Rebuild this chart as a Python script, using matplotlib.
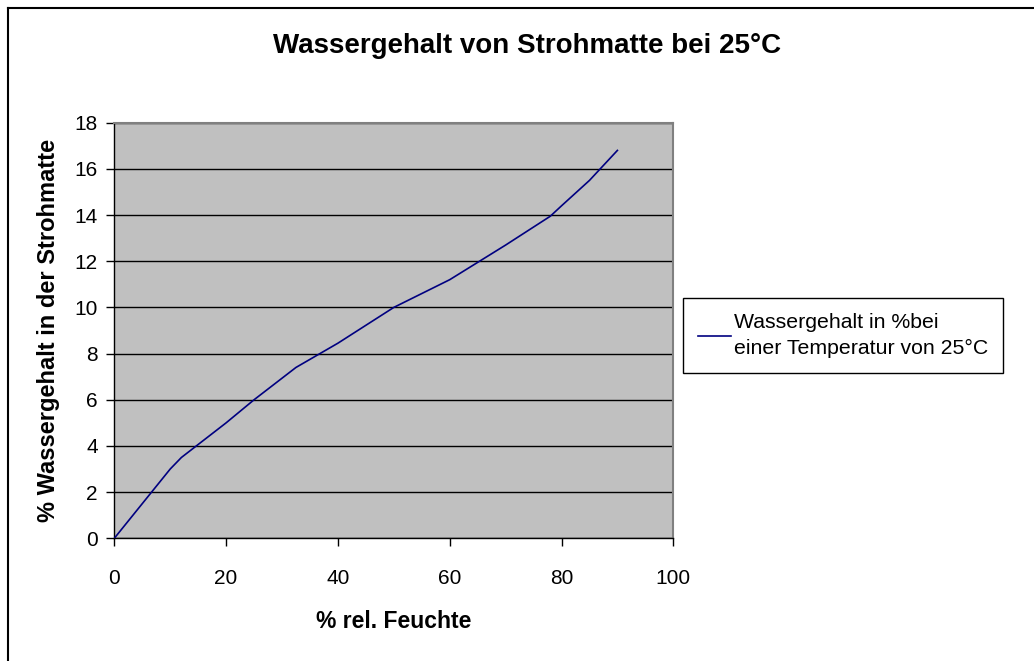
import matplotlib
matplotlib.use("Agg")
import matplotlib.pyplot as plt
from matplotlib.lines import Line2D

# relative humidity (%) vs. water content of the straw mat (%)
rel_feuchte = [0, 10, 12, 20, 25, 32.5, 35, 40, 50, 60, 70, 78, 80, 85, 90]
wassergehalt = [0, 3.0, 3.5, 5.0, 6.0, 7.4, 7.75, 8.45, 10.0, 11.2, 12.7, 13.95, 14.4, 15.5, 16.8]

x_ticks = [0, 20, 40, 60, 80, 100]
y_ticks = [0, 2, 4, 6, 8, 10, 12, 14, 16, 18]

plt.rcParams['font.family'] = ['Liberation Sans', 'DejaVu Sans']

W, H = 1034, 661
fig = plt.figure(figsize=(W / 100, H / 100), dpi=100)
fig.patch.set_facecolor("white")

# outer chart border (only top and left visible in the original)
fig.add_artist(Line2D([8 / W, 1], [1 - 7.5 / H, 1 - 7.5 / H], color="black", lw=1.5))
fig.add_artist(Line2D([8 / W, 8 / W], [0, 1 - 7.5 / H], color="black", lw=1.5))

left, right = 114.3 / W, 673.3 / W
bottom, top = 1 - 538.3 / H, 1 - 122.7 / H
ax = fig.add_axes([left, bottom, right - left, top - bottom])
ax.set_facecolor("#C0C0C0")

ax.plot(rel_feuchte, wassergehalt, color="#000080", lw=1.2,
        label="Wassergehalt in %bei\neiner Temperatur von 25°C", zorder=3)

ax.set_xlim(0, 100)
ax.set_ylim(0, 18)
ax.set_xticks(x_ticks)
ax.set_yticks(y_ticks)
ax.yaxis.grid(True, color="black", lw=1)
ax.set_axisbelow(True)

for s in ["top", "right"]:
    ax.spines[s].set_color("#808080")
    ax.spines[s].set_linewidth(1.5)
for s in ["left", "bottom"]:
    ax.spines[s].set_color("black")
    ax.spines[s].set_linewidth(1)

ax.tick_params(axis="both", direction="out", length=6, width=1, labelsize=15)
ax.tick_params(axis="x", pad=16)
ax.tick_params(axis="y", pad=6)

ax.set_xlabel("% rel. Feuchte", fontsize=16.5, fontweight="bold", labelpad=16)
ax.set_ylabel("% Wassergehalt in der Strohmatte", fontsize=17, fontweight="bold", labelpad=10)

fig.text(527 / W, 1 - 46 / H, "Wassergehalt von Strohmatte bei 25°C",
         fontsize=20, fontweight="bold", ha="center", va="center")

leg = ax.legend(loc="upper left", bbox_to_anchor=(682.7 / W, 1 - 298.3 / H),
                bbox_transform=fig.transFigure, fontsize=15.3, frameon=True,
                fancybox=False, edgecolor="black", framealpha=1,
                handlelength=1.55, handletextpad=0.15, borderpad=0.7,
                borderaxespad=0)
leg.get_frame().set_linewidth(1)
for t in leg.get_texts():
    t.set_linespacing(1.45)

fig.savefig("out.png", dpi=100)
